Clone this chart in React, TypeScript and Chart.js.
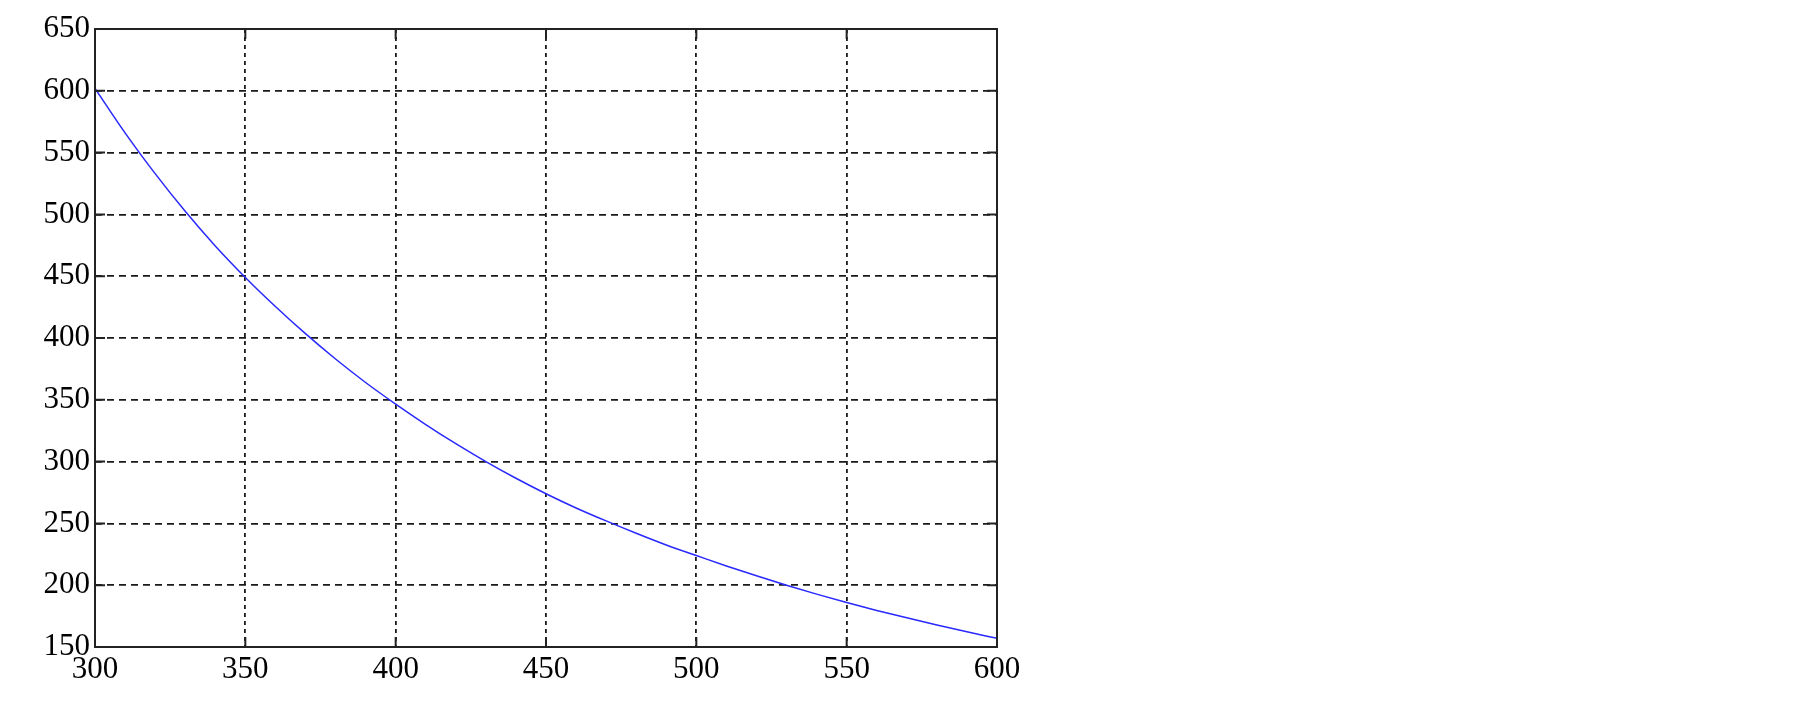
import { useEffect, useRef } from "react";
import { Chart, registerables } from "chart.js";

Chart.register(...registerables);

const xValues = [300, 310, 320, 330, 340, 350, 360, 370, 380, 390, 400, 410, 420, 430, 440, 450, 460, 470, 480, 490, 500, 510, 520, 530, 540, 550, 560, 570, 580, 590, 600];
const yValues = [602, 566, 533, 502.5, 474.5, 449, 425.5, 403.5, 383, 364, 346.5, 330, 314.5, 300, 286.5, 274, 262.5, 252, 242, 232.5, 224, 215.6, 207.6, 200, 192.8, 186, 179.6, 173.6, 167.8, 162.3, 157];
const xTicks = [300, 350, 400, 450, 500, 550, 600];
const yTicks = [150, 200, 250, 300, 350, 400, 450, 500, 550, 600, 650];

const framePlugin = {
  id: "frame",
  afterDraw(chart: any) {
    const { ctx, chartArea: a, scales } = chart;
    ctx.save();
    ctx.setLineDash([]);
    ctx.strokeStyle = "#222";
    ctx.lineWidth = 2;
    const tl = 10;
    ctx.beginPath();
    for (const v of yTicks) {
      const y = scales.y.getPixelForValue(v);
      ctx.moveTo(a.left, y);
      ctx.lineTo(a.left + tl, y);
      ctx.moveTo(a.right, y);
      ctx.lineTo(a.right - tl, y);
    }
    for (const v of xTicks) {
      const x = scales.x.getPixelForValue(v);
      ctx.moveTo(x, a.bottom);
      ctx.lineTo(x, a.bottom - tl);
      ctx.moveTo(x, a.top);
      ctx.lineTo(x, a.top + tl);
    }
    ctx.stroke();
    ctx.strokeRect(a.left, a.top, a.right - a.left, a.bottom - a.top);
    ctx.restore();
  },
};

export default function App() {
  const ref = useRef<HTMLCanvasElement | null>(null);
  useEffect(() => {
    if (!ref.current) return;
    const chart = new Chart(ref.current, {
      type: "line",
      data: {
        datasets: [
          {
            data: xValues.map((x, i) => ({ x, y: yValues[i] })),
            borderColor: "rgb(40,40,255)",
            borderWidth: 1.5,
            pointRadius: 0,
            fill: false,
            cubicInterpolationMode: "monotone",
          },
        ],
      },
      options: {
        animation: false,
        responsive: true,
        maintainAspectRatio: false,
        layout: { padding: { left: 0, top: 29, right: 808, bottom: 0 } },
        plugins: { legend: { display: false }, tooltip: { enabled: false } },
        scales: {
          x: {
            type: "linear",
            min: 300,
            max: 600,
            afterBuildTicks: (s: any) => {
              s.ticks = xTicks.map((v) => ({ value: v }));
            },
            afterFit: (s: any) => {
              s.height = 55;
            },
            ticks: {
              color: "#000",
              padding: 4,
              maxRotation: 0,
              font: { family: "'Liberation Serif', serif", size: 31 },
            },
            grid: { color: "#1a1a1a", lineWidth: 1.8, drawTicks: false },
            border: { display: false, dash: [4, 4] },
          },
          y: {
            type: "linear",
            min: 150,
            max: 650,
            afterBuildTicks: (s: any) => {
              s.ticks = yTicks.map((v) => ({ value: v }));
            },
            afterFit: (s: any) => {
              s.width = 95;
            },
            ticks: {
              color: "#000",
              padding: 5,
              font: { family: "'Liberation Serif', serif", size: 31 },
            },
            grid: { color: "#1a1a1a", lineWidth: 1.8, drawTicks: false },
            border: { display: false, dash: [7, 5] },
          },
        },
      },
      plugins: [framePlugin],
    });
    return () => chart.destroy();
  }, []);
  return (
    <div style={{ position: "absolute", left: 0, top: 0, width: 1805, height: 702, background: "#fff" }}>
      <canvas ref={ref} />
    </div>
  );
}
